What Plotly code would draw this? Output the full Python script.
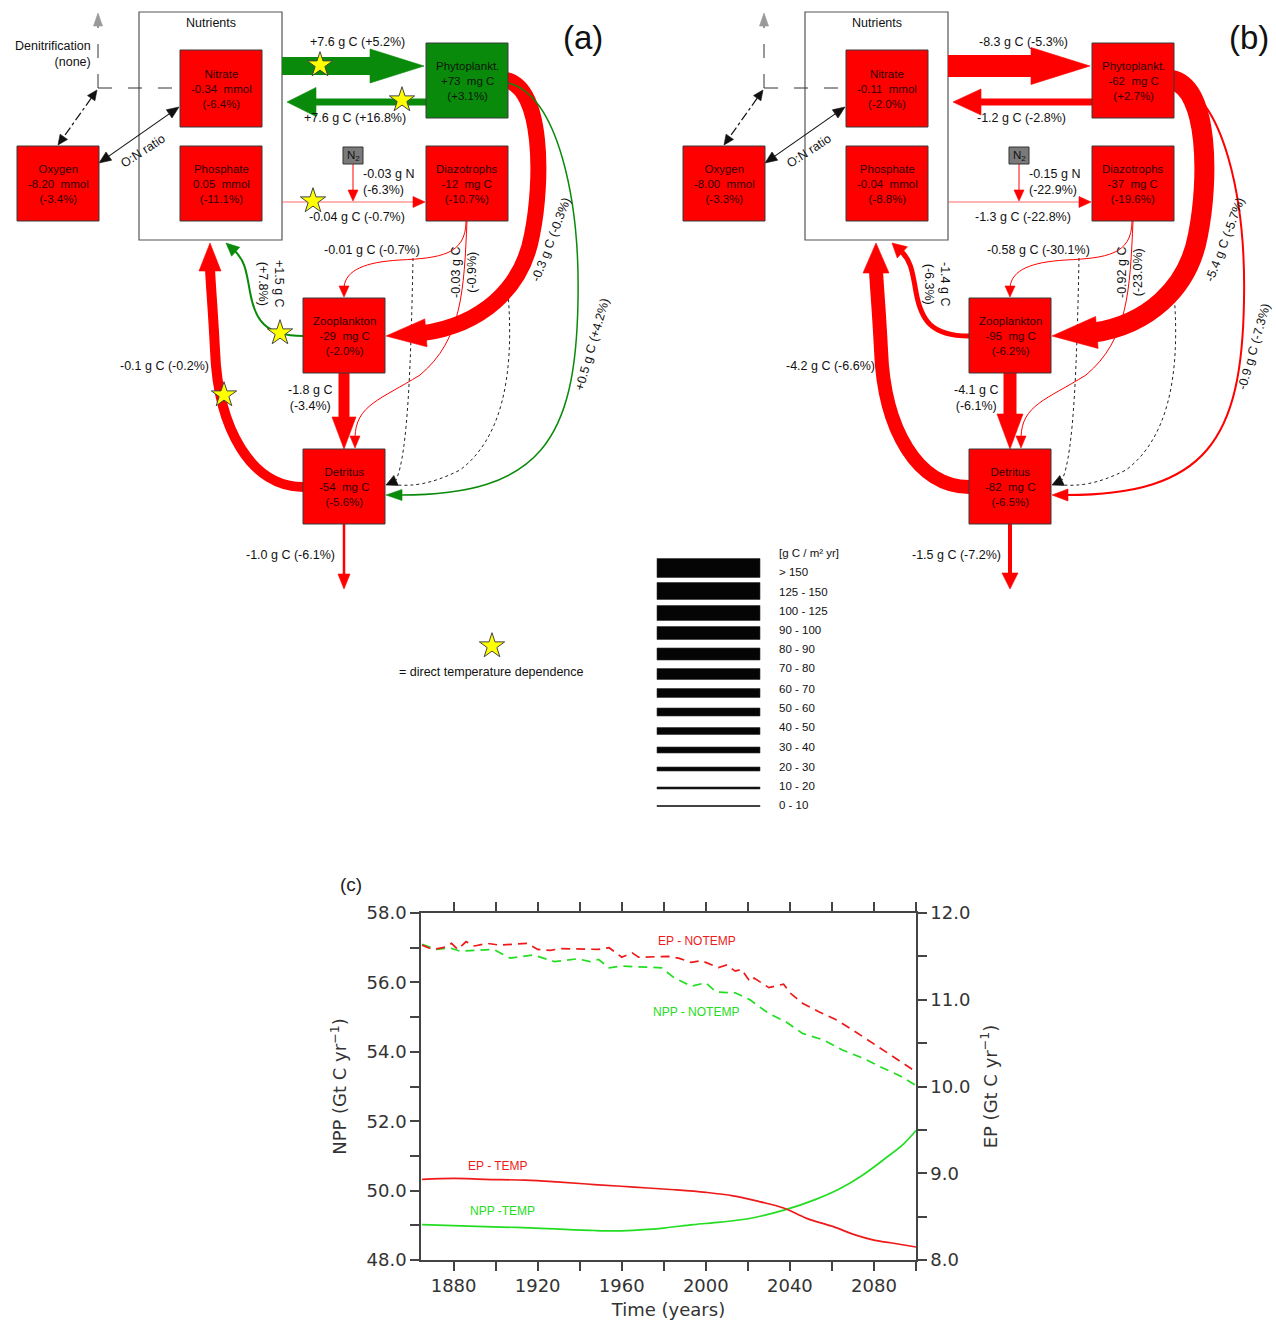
import math
import plotly.graph_objects as go

W, H = 1276, 1320
FONT = "Liberation Sans, Arial, sans-serif"
CFONT = "DejaVu Sans, sans-serif"

# ======================= DATA =======================
BOX_NAMES = ["Nitrate", "Phosphate", "Oxygen", "Phytoplankt.", "Diazotrophs", "Zooplankton", "Detritus"]
BOX_VALUES_A = ["-0.34  mmol", "0.05  mmol", "-8.20  mmol", "+73  mg C", "-12  mg C", "-29  mg C", "-54  mg C"]
BOX_PCT_A = ["(-6.4%)", "(-11.1%)", "(-3.4%)", "(+3.1%)", "(-10.7%)", "(-2.0%)", "(-5.6%)"]
BOX_VALUES_B = ["-0.11  mmol", "-0.04  mmol", "-8.00  mmol", "-62  mg C", "-37  mg C", "-95  mg C", "-82  mg C"]
BOX_PCT_B = ["(-2.0%)", "(-8.8%)", "(-3.3%)", "(+2.7%)", "(-19.6%)", "(-6.2%)", "(-6.5%)"]

FLOW_KEYS = ["nut_phy", "phy_nut", "nut_dia", "n2_fix", "phy_zoo", "phy_det",
             "dia_zoo", "dia_det", "zoo_nut", "zoo_det", "det_nut", "export"]
FLOW_VALUES_A = ["+7.6 g C", "+7.6 g C", "-0.04 g C", "-0.03 g N", "-0.3 g C", "+0.5 g C",
                 "-0.01 g C", "-0.03 g C", "+1.5 g C", "-1.8 g C", "-0.1 g C", "-1.0 g C"]
FLOW_PCT_A = ["(+5.2%)", "(+16.8%)", "(-0.7%)", "(-6.3%)", "(-0.3%)", "(+4.2%)",
              "(-0.7%)", "(-0.9%)", "(+7.8%)", "(-3.4%)", "(-0.2%)", "(-6.1%)"]
FLOW_VALUES_B = ["-8.3 g C", "-1.2 g C", "-1.3 g C", "-0.15 g N", "-5.4 g C", "-0.9 g C",
                 "-0.58 g C", "-0.92 g C", "-1.4 g C", "-4.1 g C", "-4.2 g C", "-1.5 g C"]
FLOW_PCT_B = ["(-5.3%)", "(-2.8%)", "(-22.8%)", "(-22.9%)", "(-5.7%)", "(-7.3%)",
              "(-30.1%)", "(-23.0%)", "(-6.3%)", "(-6.1%)", "(-6.6%)", "(-7.2%)"]
TEMP_DEPENDENT = ["nut_phy", "phy_nut", "nut_dia", "zoo_nut", "det_nut"]
PANEL_TAGS = ["(a)", "(b)"]
PANEL_DENIT = ["Denitrification<br>(none)", ""]

WIDTH_CLASSES = ["> 150", "125 - 150", "100 - 125", "90 - 100", "80 - 90", "70 - 80", "60 - 70",
                 "50 - 60", "40 - 50", "30 - 40", "20 - 30", "10 - 20", "0 - 10"]
WIDTH_UNIT = "[g C / m² yr]"
STAR_TEXT = "= direct temperature dependence"

YEARS_EP_TEMP = [1865, 1880, 1895, 1914, 1929, 1947, 1966, 1985, 2000, 2013, 2026, 2037, 2048, 2060, 2071, 2080, 2090, 2100]
EP_TEMP = [8.93, 8.94, 8.93, 8.92, 8.90, 8.87, 8.84, 8.81, 8.78, 8.74, 8.67, 8.60, 8.48, 8.39, 8.29, 8.23, 8.19, 8.15]

YEARS_NPP_TEMP = [1865, 1891, 1919, 1947, 1958, 1969, 1980, 1994, 2007, 2022, 2038, 2052, 2063, 2074, 2085, 2094, 2100]
NPP_TEMP = [49.02, 48.97, 48.92, 48.85, 48.84, 48.87, 48.92, 49.02, 49.09, 49.21, 49.45, 49.74, 50.03, 50.42, 50.91, 51.34, 51.73]

YEARS_NPP_NOTEMP = [1865, 1872, 1878, 1883, 1899, 1907, 1918, 1928, 1939, 1945, 1949, 1954, 1960, 1979, 1985,
                    1993, 2000, 2005, 2014, 2021, 2030, 2038, 2046, 2056, 2065, 2075, 2083, 2092, 2100]
NPP_NOTEMP = [57.10, 56.95, 57.00, 56.90, 56.95, 56.70, 56.79, 56.60, 56.68, 56.60, 56.66, 56.42, 56.47, 56.42, 56.13,
              55.89, 55.99, 55.72, 55.70, 55.50, 55.10, 54.87, 54.53, 54.34, 54.05, 53.81, 53.57, 53.32, 53.03]

YEARS_EP_NOTEMP = [1865, 1870, 1875, 1879, 1882, 1886, 1890, 1896, 1902, 1915, 1920, 1926, 1931, 1949, 1954, 1960,
                   1965, 1968, 1982, 1987, 1993, 1998, 2006, 2010, 2014, 2017, 2021, 2023, 2030, 2037, 2040, 2046,
                   2054, 2062, 2070, 2078, 2086, 2094, 2100]
EP_NOTEMP = [11.63, 11.58, 11.60, 11.65, 11.58, 11.67, 11.62, 11.65, 11.63, 11.65, 11.58, 11.57, 11.59, 11.58, 11.60,
             11.49, 11.54, 11.49, 11.50, 11.48, 11.43, 11.45, 11.37, 11.40, 11.33, 11.35, 11.21, 11.25, 11.14, 11.18,
             11.08, 10.96, 10.86, 10.77, 10.65, 10.52, 10.40, 10.26, 10.17]

SERIES_LABELS = ["EP - NOTEMP", "NPP - NOTEMP", "EP - TEMP", "NPP -TEMP"]

# ======================= STYLE / LAYOUT GEOMETRY (pixels) =======================
RED = "#ff0000"
GREEN = "#0a8a0a"
PANEL_DX = [0, 666]

BOX_POS = {"Nitrate": (180, 50, 262, 127), "Phosphate": (180, 146, 262, 221), "Oxygen": (17, 146, 99, 221),
           "Phytoplankt.": (426, 43, 508, 118), "Diazotrophs": (426, 146, 508, 221),
           "Zooplankton": (303, 298, 385, 373), "Detritus": (303, 449, 385, 524)}

FLOW_GEOM = {
    "nut_phy": dict(start=(282, 66), curves=[], tip=(424, 66), dir=(1, 0)),
    "phy_nut": dict(start=(426, 102), curves=[], tip=(287, 102), dir=(-1, 0)),
    "nut_dia": dict(start=(282, 202), curves=[], tip=(425, 202), dir=(1, 0)),
    "n2_fix": dict(start=(353, 164), curves=[], tip=(353, 201), dir=(0, 1)),
    "phy_zoo": dict(start=(506, 80), curves=[((543, 88), (543, 180), (532, 235)), ((522, 290), (480, 325), None)],
                    tip=(386, 336), dir=(-1, 0.08)),
    "phy_det": dict(start=(508, 83), curves=[((558, 95), (580, 200), (578, 300)), ((576, 440), (540, 495), None)],
                    tip=(386, 495), dir=(-1, 0)),
    "dia_zoo": dict(start=(466, 221), curves=[((466, 255), (440, 258), (400, 260)), ((365, 262), (346, 270), None)],
                    tip=(344, 297), dir=(0, 1)),
    "dia_det": dict(start=(467, 221), curves=[((464, 290), (462, 340), (420, 375)), ((380, 400), (356, 405), None)],
                    tip=(355, 448), dir=(0, 1)),
    "zoo_nut": dict(start=(303, 336), curves=[((265, 336), (255, 320), (250, 292)), ((246, 268), (244, 260), None)],
                    tip=(226, 243), dir=(-0.74, -0.67)),
    "zoo_det": dict(start=(344, 373), curves=[], tip=(344, 449), dir=(0, 1)),
    "det_nut": dict(start=(303, 487), curves=[((252, 487), (218, 430), (215, 350)), ((213, 310), (211, 290), None)],
                    tip=(210, 243), dir=(0, -1)),
    "export": dict(start=(344, 524), curves=[], tip=(344, 589), dir=(0, 1)),
}
# line width, head length, head half-width per panel
FLOW_STYLE = [
    {"nut_phy": (18, 54, 17), "phy_nut": (7, 29, 14.5), "nut_dia": (0.9, 12, 5.5), "n2_fix": (1, 11, 5),
     "phy_zoo": (16, 40, 14), "phy_det": (1.5, 16, 5.5), "dia_zoo": (1, 11, 5), "dia_det": (1, 12, 5),
     "zoo_nut": (2, 13, 6), "zoo_det": (11, 32, 12), "det_nut": (10, 28, 11), "export": (2.5, 15, 6)},
    {"nut_phy": (22, 59, 18.5), "phy_nut": (7, 28, 13), "nut_dia": (0.9, 12, 5.5), "n2_fix": (1, 11, 5),
     "phy_zoo": (20, 45, 16), "phy_det": (2, 16, 6), "dia_zoo": (1, 11, 5), "dia_det": (1, 12, 5),
     "zoo_nut": (5, 14, 7.5), "zoo_det": (13, 35, 13), "det_nut": (14, 30, 13), "export": (4, 16, 8)},
]
LABEL_GEOM = {
    "nut_phy": ((357, 42), 0, "center"), "phy_nut": ((355, 118), 0, "center"),
    "nut_dia": ((357, 217), 0, "center"), "n2_fix": ((361, 182), 0, "left"),
    "phy_zoo": ((551, 240), -69, "center"), "phy_det": ((592, 345), -74, "center"),
    "dia_zoo": ((372, 250), 0, "center"), "dia_det": ((464, 273), -90, "center"),
    "zoo_nut": ((271, 284), 90, "center"), "zoo_det": ((310, 398), 0, "center"),
    "det_nut": ((164, 366), 0, "center"), "export": ((290, 555), 0, "center"),
}
LABEL_SHIFT_B = {"phy_zoo": (8, 0), "phy_det": (-4, 2)}
TWO_LINE = {"n2_fix", "dia_det", "zoo_nut", "zoo_det"}
STAR_POS = {"nut_phy": (320, 65), "phy_nut": (402, 100), "nut_dia": (313, 201), "zoo_nut": (280, 333),
            "det_nut": (224, 395)}

LEGEND_BAR_Y = [568, 591, 613, 633, 654, 674, 693, 712, 731, 750, 769, 788, 806]
LEGEND_BAR_W = [19, 17, 15, 13, 12, 11, 9, 8, 7, 6, 4, 2, 1]
LEGEND_LABEL_Y = [572, 592, 611, 630, 649, 668, 689, 708, 727, 747, 767, 786, 805]

shapes = []
annotations = []
star_x, star_y = [], []


def ann(x, y, text, size=12.5, color="#111", angle=0, xanchor="center", align="center", family=FONT):
    annotations.append(dict(x=x, y=y, xref="x", yref="y", text=text, showarrow=False,
                            font=dict(size=size, color=color, family=family), textangle=angle,
                            xanchor=xanchor, yanchor="middle", align=align))


def norm(v):
    l = math.hypot(v[0], v[1])
    return (v[0] / l, v[1] / l)


def head(tip, d, length, half, color, dx, layer="below"):
    ux, uy = norm(d)
    bx, by = tip[0] - ux * length, tip[1] - uy * length
    px, py = -uy, ux
    p = (f"M {tip[0] + dx:.1f},{tip[1]:.1f} L {bx + px * half + dx:.1f},{by + py * half:.1f} "
         f"L {bx - px * half + dx:.1f},{by - py * half:.1f} Z")
    shapes.append(dict(type="path", path=p, xref="x", yref="y", fillcolor=color,
                       line=dict(color=color, width=0.6), layer=layer))
    return (bx, by)


def line_path(pts_str, color, width, dash="solid", layer="below"):
    shapes.append(dict(type="path", path=pts_str, xref="x", yref="y", fillcolor="rgba(0,0,0,0)",
                       line=dict(color=color, width=width, dash=dash), layer=layer))


def rect(x0, y0, x1, y1, fill, line="#3a3a3a", lw=1):
    shapes.append(dict(type="rect", x0=x0, y0=y0, x1=x1, y1=y1, xref="x", yref="y", fillcolor=fill,
                       line=dict(color=line, width=lw), layer="below"))


def build_path(start, curves, base, dx):
    s = f"M {start[0] + dx:.1f},{start[1]:.1f}"
    if not curves:
        s += f" L {base[0] + dx:.1f},{base[1]:.1f}"
    for c1, c2, p in curves:
        p = p if p is not None else base
        s += (f" C {c1[0] + dx:.1f},{c1[1]:.1f} {c2[0] + dx:.1f},{c2[1]:.1f} "
              f"{p[0] + dx:.1f},{p[1]:.1f}")
    return s


panels = [
    (BOX_VALUES_A, BOX_PCT_A, FLOW_VALUES_A, FLOW_PCT_A),
    (BOX_VALUES_B, BOX_PCT_B, FLOW_VALUES_B, FLOW_PCT_B),
]

for pi, (bvals, bpcts, fvals, fpcts) in enumerate(panels):
    dx = PANEL_DX[pi]
    # Nutrients container
    rect(139 + dx, 12, 282 + dx, 240, "white", "#555", 1.2)
    ann(211 + dx, 23, "Nutrients", size=12.5)

    # denitrification dashed lines
    line_path(f"M {98 + dx},88 L {98 + dx},26", "#333", 1, dash="14px,16px")
    line_path(f"M {98 + dx},88 L {180 + dx},88", "#333", 1, dash="14px,16px")
    head((98, 13), (0, -1), 13, 4.5, "#999", dx)
    if PANEL_DENIT[pi]:
        ann(93 + dx, 54, PANEL_DENIT[pi], size=12.5, xanchor="right", align="right")

    # dash-dot double arrow oxygen <-> denitrification
    b1 = head((97, 90), (39, -55), 10, 4.5, "#111", dx)
    b2 = head((58, 145), (-39, 55), 10, 4.5, "#111", dx)
    line_path(f"M {b1[0] + dx:.1f},{b1[1]:.1f} L {b2[0] + dx:.1f},{b2[1]:.1f}", "#111", 1.2, dash="dashdot")
    # O:N ratio double arrow
    b1 = head((179, 107), (80, -56), 12, 5, "#111", dx)
    b2 = head((99, 163), (-80, 56), 12, 5, "#111", dx)
    line_path(f"M {b1[0] + dx:.1f},{b1[1]:.1f} L {b2[0] + dx:.1f},{b2[1]:.1f}", "#111", 1.1)
    ann(143 + dx, 151, "O:N ratio", size=12.5, angle=-33)

    # dotted black lines to detritus
    line_path(build_path((413, 258), [((411, 360), (408, 455), None)], (396, 480), dx), "#222", 1, dash="dot")
    line_path(build_path((508, 293), [((515, 380), (500, 440), (460, 470)), ((430, 485), (412, 486), None)],
                         (397, 485), dx), "#222", 1, dash="dot")
    head((386, 485), (-0.91, 0.41), 11, 5.5, "#111", dx)

    # flows
    for fi, key in enumerate(FLOW_KEYS):
        g = FLOW_GEOM[key]
        w, hl, hh = FLOW_STYLE[pi][key]
        color = GREEN if fvals[fi].startswith("+") else RED
        lcolor = "#ff5a5a" if key == "nut_dia" else color
        ux, uy = norm(g["dir"])
        base = (g["tip"][0] - ux * hl * 0.92, g["tip"][1] - uy * hl * 0.92)
        line_path(build_path(g["start"], g["curves"], base, dx), lcolor, w)
        head(g["tip"], g["dir"], hl, hh, color, dx)
        (lx, ly), ang, anchor = LABEL_GEOM[key]
        if pi == 1 and key in LABEL_SHIFT_B:
            lx += LABEL_SHIFT_B[key][0]
            ly += LABEL_SHIFT_B[key][1]
        sep = "<br>" if key in TWO_LINE else " "
        ann(lx + dx, ly, f"{fvals[fi]}{sep}{fpcts[fi]}", size=12.5, angle=ang,
            xanchor=anchor, align="left" if anchor == "left" else "center")
        if pi == 0 and key in TEMP_DEPENDENT:
            star_x.append(STAR_POS[key][0] + dx)
            star_y.append(STAR_POS[key][1])

    # N2 source box
    rect(343 + dx, 147, 363 + dx, 164, "#7a7a7a", "#333", 1)
    ann(353 + dx, 155.5, "N<sub>2</sub>", size=11.5, color="#111")

    # compartments
    for bi, name in enumerate(BOX_NAMES):
        x0, y0, x1, y1 = BOX_POS[name]
        fill = GREEN if bvals[bi].startswith("+") and name == "Phytoplankt." else RED
        tcol = "#0b160b" if fill == GREEN else "#300000"
        rect(x0 + dx, y0, x1 + dx, y1, fill)
        txt = f"{name}<br>{bvals[bi].replace('  ', '&nbsp;&nbsp;')}<br>{bpcts[bi]}"
        ann((x0 + x1) / 2 + dx, (y0 + y1) / 2, txt, size=11.5, color=tcol)

    ann(583 + dx, 37, PANEL_TAGS[pi], size=33, color="#111")

# star legend
star_x.append(492)
star_y.append(646)
ann(491, 672, STAR_TEXT, size=12.5)

# width legend
ann(777, 553, WIDTH_UNIT, size=11.5, xanchor="left")
for i, lab in enumerate(WIDTH_CLASSES):
    yc = LEGEND_BAR_Y[i]
    hw = LEGEND_BAR_W[i] / 2
    shapes.append(dict(type="rect", x0=657, x1=760, y0=yc - hw, y1=yc + hw, xref="x", yref="y",
                       fillcolor="#050505", line=dict(color="#333", width=0.6 if LEGEND_BAR_W[i] > 1 else 0.8),
                       layer="below"))
    ann(777, LEGEND_LABEL_Y[i], lab, size=11.5, xanchor="left")

# ======================= FIGURE =======================
fig = go.Figure()

# stars (full-page axis)
fig.add_trace(go.Scatter(x=star_x, y=star_y, mode="markers", xaxis="x", yaxis="y", showlegend=False,
                         hoverinfo="skip",
                         marker=dict(symbol="star", size=19, color="#ffff00", line=dict(color="#444", width=1))))

CRED = "#ee1a1a"
CGREEN = "#22dd22"
fig.add_trace(go.Scatter(x=YEARS_NPP_NOTEMP, y=NPP_NOTEMP, mode="lines", xaxis="x2", yaxis="y2",
                         line=dict(color=CGREEN, width=1.7, dash="9px,6px"), showlegend=False))
fig.add_trace(go.Scatter(x=YEARS_NPP_TEMP, y=NPP_TEMP, mode="lines", xaxis="x2", yaxis="y2",
                         line=dict(color=CGREEN, width=1.7, shape="spline"), showlegend=False))
fig.add_trace(go.Scatter(x=YEARS_EP_NOTEMP, y=EP_NOTEMP, mode="lines", xaxis="x2", yaxis="y3",
                         line=dict(color=CRED, width=1.7, dash="9px,6px"), showlegend=False))
fig.add_trace(go.Scatter(x=YEARS_EP_TEMP, y=EP_TEMP, mode="lines", xaxis="x2", yaxis="y3",
                         line=dict(color=CRED, width=1.7, shape="spline"), showlegend=False))

# chart (c) annotations in page pixels
ann(697, 941, SERIES_LABELS[0], size=12, color=CRED)
ann(696, 1012, SERIES_LABELS[1], size=12, color=CGREEN)
ann(498, 1166, SERIES_LABELS[2], size=12, color=CRED)
ann(502, 1211, SERIES_LABELS[3], size=12, color=CGREEN)
ann(351, 884, "(c)", size=19, color="#222")

AX = "#444"
tickfont = dict(family=CFONT, size=18, color="#333")
titlefont = dict(family=CFONT, size=18, color="#333")
minor_common = dict(ticks="outside", ticklen=9, tickwidth=1.5, tickcolor=AX)

fig.update_layout(
    width=W, height=H, margin=dict(l=0, r=0, t=0, b=0, autoexpand=False),
    paper_bgcolor="white", plot_bgcolor="rgba(0,0,0,0)",
    showlegend=False,
    xaxis=dict(domain=[0, 1], range=[0, W], visible=False, fixedrange=True),
    yaxis=dict(domain=[0, 1], range=[H, 0], visible=False, fixedrange=True),
    xaxis2=dict(domain=[421 / W, 916 / W], anchor="y2", range=[1864.5, 2100], automargin=False,
                tick0=1880, dtick=40, minor=dict(dtick=20, **minor_common),
                ticks="outside", ticklen=9, tickwidth=1.5,
                tickcolor=AX, showline=True, linecolor=AX, linewidth=1.5, mirror="ticks",
                showgrid=False, zeroline=False, tickfont=tickfont,
                title=dict(text="Time (years)", font=titlefont)),
    yaxis2=dict(domain=[60 / H, 407 / H], anchor="x2", range=[48, 58], automargin=False,
                tick0=48, dtick=2, tickformat=".1f", minor=dict(dtick=1, **minor_common),
                ticks="outside", ticklen=9, tickwidth=1.5,
                tickcolor=AX, showline=True, linecolor=AX, linewidth=1.5, mirror=True,
                showgrid=False, zeroline=False, tickfont=tickfont,
                title=dict(text="NPP (Gt C yr<sup>−1</sup>)", font=titlefont)),
    yaxis3=dict(overlaying="y2", side="right", anchor="x2", range=[8, 12], automargin=False,
                tick0=8, dtick=1, tickformat=".1f", minor=dict(dtick=0.5, **minor_common),
                ticks="outside", ticklen=9, tickwidth=1.5,
                tickcolor=AX, showline=True, linecolor=AX, linewidth=1.5,
                showgrid=False, zeroline=False, tickfont=tickfont,
                title=dict(text="EP (Gt C yr<sup>−1</sup>)", font=titlefont)),
    shapes=shapes,
    annotations=annotations,
)

fig.write_html("out.html", config={"displayModeBar": False},
               post_script="document.body.style.margin='0px';document.body.style.overflow='hidden';")
